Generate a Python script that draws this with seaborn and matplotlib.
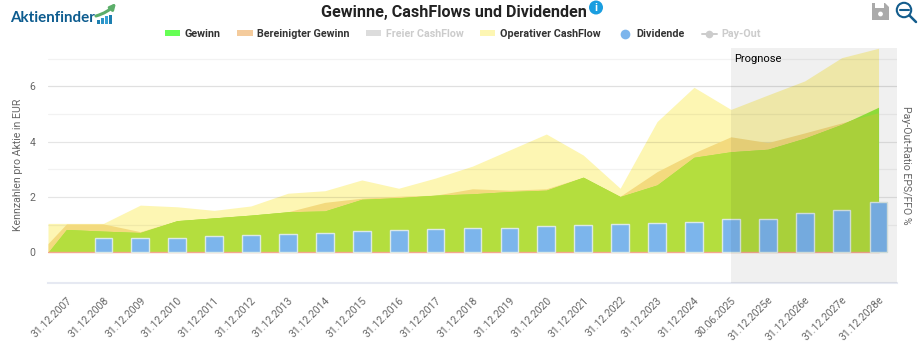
import numpy as np
import pandas as pd
import matplotlib
matplotlib.use("Agg")
import matplotlib.pyplot as plt
from matplotlib.lines import Line2D
from matplotlib.patches import Patch, Circle, Rectangle, Polygon, FancyArrowPatch
from matplotlib.path import Path
import seaborn as sns

dates = ["31.12.2007", "31.12.2008", "31.12.2009", "31.12.2010", "31.12.2011", "31.12.2012",
         "31.12.2013", "31.12.2014", "31.12.2015", "31.12.2016", "31.12.2017", "31.12.2018",
         "31.12.2019", "31.12.2020", "31.12.2021", "31.12.2022", "31.12.2023", "31.12.2024",
         "30.06.2025", "31.12.2025e", "31.12.2026e", "31.12.2027e", "31.12.2028e"]
gewinn = [0.83, 0.77, 0.72, 1.15, 1.25, 1.35, 1.47, 1.50, 1.92, 1.98, 2.07, 2.12,
          2.20, 2.25, 2.72, 2.02, 2.44, 3.44, 3.64, 3.73, 4.13, 4.63, 5.25]
bereinigt = [1.03, 1.03, 0.75, 1.15, 1.25, 1.35, 1.47, 1.81, 1.96, 2.03, 2.07, 2.30,
             2.25, 2.30, 2.72, 2.03, 2.92, 3.60, 4.18, 3.97, 4.32, 4.68, 5.03]
operativ = [1.05, 1.05, 1.71, 1.65, 1.52, 1.68, 2.14, 2.23, 2.62, 2.32, 2.69, 3.12,
            3.70, 4.28, 3.52, 2.32, 4.73, 5.97, 5.17, 5.69, 6.20, 7.04, 7.38]
dividende = [np.nan, 0.51, 0.51, 0.51, 0.60, 0.64, 0.675, 0.71, 0.76, 0.80, 0.86, 0.89,
             0.89, 0.95, 0.99, 1.02, 1.05, 1.11, 1.22, 1.22, 1.41, 1.54, 1.83]
# values at the left edge of the plot, half a category before the first date
start_gewinn, start_bereinigt, start_operativ = 0.0, 0.32, 1.05
prognose_from = "30.06.2025"

W, H = 923, 352
FONT = ["Roboto", "DejaVu Sans"]
sns.set_theme(style="white")
plt.rcParams["font.family"] = FONT

C_Y, C_O, C_G, C_GO = "#fdf6b3", "#f3da7e", "#96e83e", "#b4de3e"
GREY = "#666666"

fig = plt.figure(figsize=(W / 100, H / 100), dpi=100, facecolor="white")
ax = fig.add_axes([48 / W, 1 - 282.5 / H, 849 / W, 234.5 / H])

df = pd.DataFrame({"Datum": dates, "Dividende": dividende})
sns.barplot(data=df, x="Datum", y="Dividende", ax=ax, color="#7cb5ec", saturation=1,
            width=0.48, errorbar=None, edgecolor="#dbe9e6", linewidth=1.0, zorder=5)

n = len(dates)
xs = np.r_[-0.5, np.arange(n)]
y_g = np.r_[start_gewinn, gewinn]
y_b = np.r_[start_bereinigt, bereinigt]
y_o = np.r_[start_operativ, operativ]

ax.fill_between(xs, 0, y_o, color=C_Y, lw=0, zorder=1)
for v, a in [(2, .10), (4, .10), (6, .12), (1, .05), (3, .05), (5, .05), (7, .05)]:
    ax.axhline(v, color="black", alpha=a, lw=0.9, zorder=1.5)
adj = ax.fill_between(xs, 0, y_b, color=C_O, lw=0, zorder=2)
ax.fill_between(xs, 0, y_g, color=C_G, lw=0, zorder=2.5)
both = ax.fill_between(xs, 0, y_g, color=C_GO, lw=0, zorder=3)
both.set_clip_path(Path(adj.get_paths()[0].vertices, adj.get_paths()[0].codes), ax.transData)
ax.plot(xs, np.zeros_like(xs), color="#f4a78e", lw=1.0, zorder=4)

ax.axvspan(dates.index(prognose_from), n - 0.5, color="black", alpha=0.058, lw=0, zorder=6)
ax.text(dates.index(prognose_from) + 0.08, 7.0, "Prognose", fontsize=8, color="black",
        va="center", ha="left", zorder=7)

ax.set_xlim(-0.5, n - 0.5)
ax.set_ylim(-1.087, 7.39)
ax.set_yticks([0, 2, 4, 6])
ax.set_ylabel("Kennzahlen pro Aktie in EUR", fontsize=7.6, color=GREY)
ax.yaxis.set_label_coords(-25 / 849, 0.5)
ax.set_xlabel("")
ax.tick_params(axis="y", length=0, labelsize=7.6, labelcolor=GREY, pad=9)
ax.tick_params(axis="x", length=0, labelsize=7.5, labelcolor=GREY, pad=9)
plt.setp(ax.get_xticklabels(), rotation=45, ha="right", rotation_mode="anchor")
for s in ["top", "left", "right"]:
    ax.spines[s].set_visible(False)
ax.spines["bottom"].set_color("#e6e9f2")
ax.spines["bottom"].set_linewidth(1.5)

ax2 = ax.twinx()
ax2.set_ylim(ax.get_ylim())
ax2.set_yticks([])
ax2.set_ylabel("Pay-Out-Ratio EPS/FFO %", rotation=270, fontsize=7.6, color=GREY)
ax2.yaxis.set_label_coords(1 + 14 / 849, 0.5)
for s in ax2.spines.values():
    s.set_visible(False)

fig.text(454 / W, 1 - 12 / H, "Gewinne, CashFlows und Dividenden", fontsize=11.6,
         fontweight="bold", color="#222222", ha="center", va="center")

handles = [
    Patch(facecolor="#66ff55", edgecolor="none"),
    Patch(facecolor="#f4cb9c", edgecolor="none"),
    Patch(facecolor="#dcdcdc", edgecolor="none"),
    Patch(facecolor="#fdf6b3", edgecolor="none"),
    Line2D([], [], ls="none", marker="o", ms=7, color="#7cb5ec", mec="none"),
    Line2D([], [], color="#cccccc", lw=1.4, marker="o", ms=5.5, mec="none"),
]
labels = ["Gewinn", "Bereinigter Gewinn", "Freier CashFlow", "Operativer CashFlow", "Dividende", "Pay-Out"]
leg = fig.legend(handles, labels, ncol=6, frameon=False, fontsize=7.75,
                 loc="center", bbox_to_anchor=(463 / W, 1 - 34 / H),
                 handlelength=1.4, handleheight=0.45, handletextpad=0.42,
                 columnspacing=1.55, borderpad=0)
for t, c in zip(leg.get_texts(), ["#333333", "#333333", "#cccccc", "#333333", "#333333", "#cccccc"]):
    t.set_color(c)
    t.set_fontweight("bold")

# page decoration: logo, info and toolbar icons
deco = fig.add_axes([0, 0, 1, 1], zorder=10)
deco.set_xlim(0, W)
deco.set_ylim(H, 0)
deco.axis("off")
deco.patch.set_alpha(0)
deco.text(10.5, 18, "Aktienfinder", fontsize=10.9, fontweight="bold", color="#0d5c8f",
          ha="left", va="center", family=["Lato", "DejaVu Sans"])
for bx, bt, c in [(97, 20, "#1d7fb0"), (101, 18, "#2b93c6"), (105, 16, "#35a0d4"), (109, 15, "#1d7fb0")]:
    deco.add_patch(Rectangle((bx, bt), 3, 24 - bt, color=c, lw=0))
deco.add_patch(FancyArrowPatch((96, 16), (116, 3), connectionstyle="arc3,rad=0.15",
                               arrowstyle="-|>", mutation_scale=8, lw=2.2, color="#5cae6a", shrinkA=0, shrinkB=0))
deco.add_patch(Circle((596, 7.5), 7, color="#1a9ee0", lw=0))
deco.text(596, 7.7, "i", color="white", fontsize=8, fontweight="bold", ha="center", va="center")
deco.add_patch(Polygon([(872, 3), (885, 3), (889, 7), (889, 20), (872, 20)], color="#aaaaaa", lw=0))
deco.add_patch(Rectangle((875, 3), 9, 5, color="white", lw=0))
deco.add_patch(Circle((880.5, 14), 2.4, color="white", lw=0))
deco.add_patch(Circle((904, 10), 7.2, fill=False, ec="#135c8c", lw=1.5))
deco.plot([899.5, 908.5], [10, 10], color="#135c8c", lw=1.5)
deco.plot([909.5, 916], [15.5, 22], color="#135c8c", lw=1.8)

fig.savefig("out.png", dpi=100)
